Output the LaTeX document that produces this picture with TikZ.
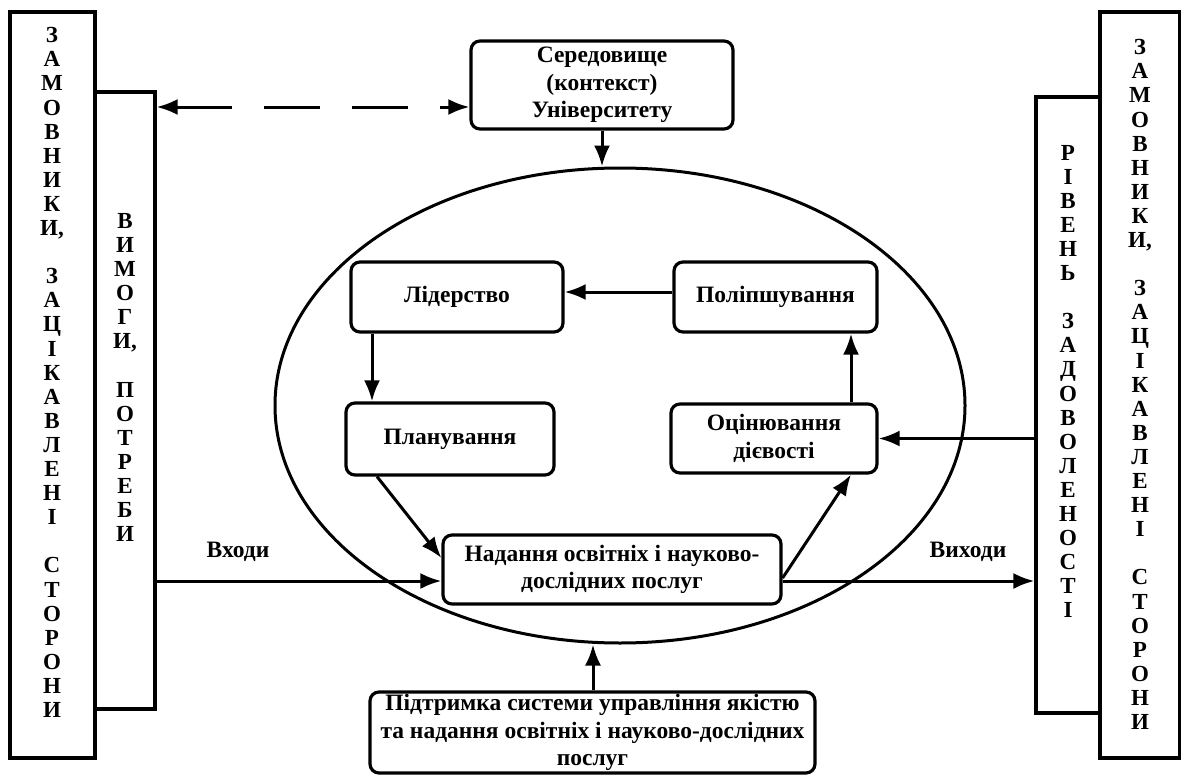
\documentclass[tikz,border=0pt]{standalone}
\usepackage{fontspec}
\setmainfont{Liberation Serif}
\usetikzlibrary{arrows.meta, shapes.geometric}
\newcommand{\blkfont}{\fontsize{23.5}{27.5}\selectfont\bfseries}
\newcommand{\stackfont}{\fontsize{23}{24.1}\selectfont\bfseries}
\tikzset{>={Latex[length=21pt,width=16pt]}}
\tikzset{
  blk/.style={draw, line width=3.2pt, rounded corners=9pt, align=center, inner sep=0pt, font=\blkfont},
  bar/.style={draw, line width=3.2pt, inner sep=0pt},
  stack/.style={align=center, inner sep=0pt, font=\stackfont},
  lbl/.style={inner sep=0pt, font=\blkfont},
  conn/.style={line width=3pt}
}

\begin{document}
\begin{tikzpicture}[x=1pt, y=-1pt]
\useasboundingbox (0,0) rectangle (1181,776);
\node[bar, minimum width=85pt, minimum height=746pt] (zam1) at (52.5,385) {};
\node[bar, minimum width=60pt, minimum height=617pt] (vym) at (125,400.5) {};
\node[bar, minimum width=64pt, minimum height=616pt] (riv) at (1068,405) {};
\node[bar, minimum width=80pt, minimum height=746pt] (zam2) at (1140,385) {};
\node[stack] (zam1txt) at (52,372.5) {З\\А\\М\\О\\В\\Н\\И\\К\\И,\\[24.1pt]З\\А\\Ц\\І\\К\\А\\В\\Л\\Е\\Н\\І\\[24.1pt]С\\Т\\О\\Р\\О\\Н\\И};
\node[stack] (vymtxt) at (125,377.5) {В\\И\\М\\О\\Г\\И,\\[24.1pt]П\\О\\Т\\Р\\Е\\Б\\И};
\node[stack] (rivtxt) at (1068,381.5) {Р\\І\\В\\Е\\Н\\Ь\\[24.1pt]З\\А\\Д\\О\\В\\О\\Л\\Е\\Н\\О\\С\\Т\\І};
\node[stack] (zam2txt) at (1140,384.5) {З\\А\\М\\О\\В\\Н\\И\\К\\И,\\[24.1pt]З\\А\\Ц\\І\\К\\А\\В\\Л\\Е\\Н\\І\\[24.1pt]С\\Т\\О\\Р\\О\\Н\\И};
\node[draw, ellipse, conn, minimum width=690pt, minimum height=475pt, inner sep=0pt] (ell) at (620,405.5) {};
\node[blk, minimum width=262pt, minimum height=88pt] (env) at (602,85) {Середовище\\(контекст)\\Університету};
\node[blk, minimum width=212pt, minimum height=70pt] (lid) at (457,297) {Лідерство};
\node[blk, minimum width=203pt, minimum height=70pt] (pol) at (775.5,297) {Поліпшування};
\node[blk, minimum width=208pt, minimum height=72pt] (plan) at (450,439) {Планування};
\node[blk, minimum width=206pt, minimum height=69pt] (ocin) at (774,438.5) {Оцінювання\\дієвості};
\node[blk, minimum width=338pt, minimum height=69pt] (nad) at (612,569.5) {Надання освітніх і науково-\\дослідних послуг};
\node[blk, minimum width=445pt, minimum height=81pt] (sup) at (592.5,732.5) {Підтримка системи управління якістю\\та надання освітніх і науково-дослідних\\послуг};
\node[lbl] (inlbl) at (238,552) {Входи};
\node[lbl] (outlbl) at (968,552) {Виходи};
\draw[conn, <->, dash pattern=on 56pt off 32pt] (vym.east |- 0,107) -- (env.west |- 0,107);
\draw[conn, ->] (env.south) -- (env.south |- ell.north);
\draw[conn, ->] ([yshift=5pt]pol.west) -- ([yshift=5pt]lid.east);
\draw[conn, ->] (lid.south -| 372,0) -- (plan.north -| 372,0);
\draw[conn, ->] (plan.south -| 377,0) -- (nad.west |- 0,558);
\draw[conn, ->] (nad.east |- 0,578) -- (ocin.south -| 851,0);
\draw[conn, ->] (ocin.north -| 851,0) -- (pol.south -| 851,0);
\draw[conn, ->] (riv.west |- ocin.east) -- (ocin.east);
\draw[conn, ->] (vym.east |- 0,581) -- (nad.west |- 0,581);
\draw[conn, ->] (nad.east |- 0,581) -- (riv.west |- 0,581);
\draw[conn, ->] (sup.north -| 593,0) -- (ell.south -| 593,0);
\end{tikzpicture}
\end{document}
